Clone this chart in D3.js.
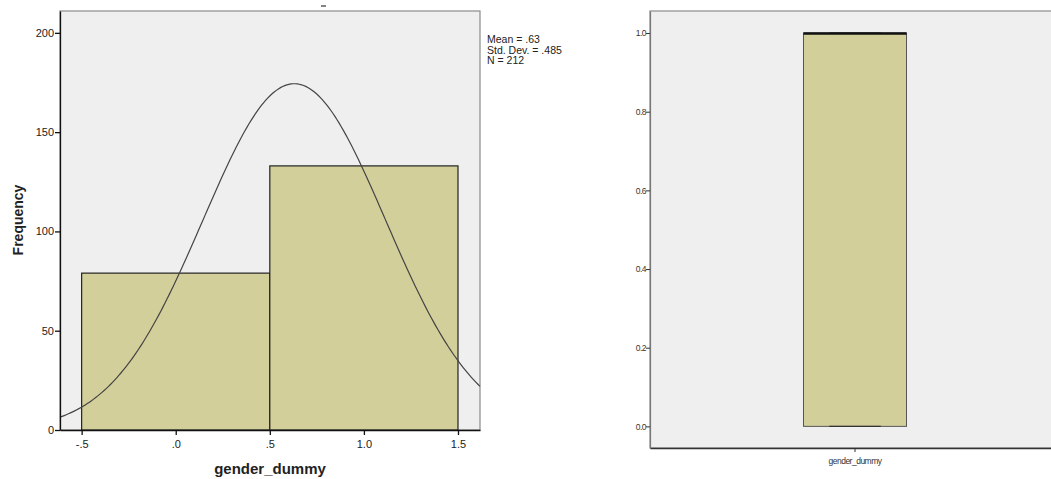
<!DOCTYPE html>
<html>
<head>
<meta charset="utf-8">
<script src="https://cdn.jsdelivr.net/npm/d3@7"></script>
<style>
  body { margin: 0; background: #fff; }
  svg { display: block; font-family: "Liberation Sans", Arial, sans-serif; }
</style>
</head>
<body>
<div class="chart"></div>
<script>
// Histogram data (gender_dummy)
var binEdges = [[-0.5, 0.5], [0.5, 1.5]];
var binCounts = [79, 133];
var histTicksX = [-0.5, 0, 0.5, 1.0, 1.5];
var histTickLabelsX = ["-.5", ".0", ".5", "1.0", "1.5"];
var histTicksY = [0, 50, 100, 150, 200];
var statsMean = 0.63;
var statsSd = 0.485;
var statsN = 212;
var statsLines = ["Mean = .63", "Std. Dev. = .485", "N = 212"];

// Boxplot data
var boxCategories = ["gender_dummy"];
var boxMin = [0], boxQ1 = [0], boxMedian = [1], boxQ3 = [1], boxMax = [1];
var boxTicksY = [0, 0.2, 0.4, 0.6, 0.8, 1.0];

var W = 1051, H = 479;
var svg = d3.select(".chart").append("svg").attr("width", W).attr("height", H);

// ---------- Left: histogram ----------
var hx = d3.scaleLinear().domain([-0.615, 1.617]).range([60, 480]);
var hy = d3.scaleLinear().domain([0, 211]).range([430, 11]);

svg.append("rect")
  .attr("x", 60).attr("y", 11).attr("width", 420).attr("height", 419)
  .attr("fill", "#efefef").attr("stroke", "#8a8a8a").attr("stroke-width", 1.2);

var hist = svg.append("g");
hist.selectAll("rect.bar")
  .data(binCounts)
  .enter().append("rect")
  .attr("class", "bar")
  .attr("x", (d, i) => hx(binEdges[i][0]))
  .attr("y", d => hy(d))
  .attr("width", (d, i) => hx(binEdges[i][1]) - hx(binEdges[i][0]))
  .attr("height", d => hy(0) - hy(d))
  .attr("fill", "#d3cf9b")
  .attr("stroke", "#222").attr("stroke-width", 1.2);

// fitted normal curve from the printed statistics
var binW = binEdges[0][1] - binEdges[0][0];
var curveXs = d3.range(0, 201).map(i => hx.domain()[0] + i * (hx.domain()[1] - hx.domain()[0]) / 200);
var normal = x => statsN * binW / (statsSd * Math.sqrt(2 * Math.PI)) *
  Math.exp(-0.5 * Math.pow((x - statsMean) / statsSd, 2));
hist.append("path")
  .datum(curveXs)
  .attr("fill", "none").attr("stroke", "#444").attr("stroke-width", 1.2)
  .attr("d", d3.line().x(d => hx(d)).y(d => hy(normal(d))));

// axes
var hxAxis = svg.append("g")
  .attr("transform", "translate(0,430)")
  .call(d3.axisBottom(hx).tickValues(histTicksX).tickFormat((d, i) => histTickLabelsX[i]).tickSize(5).tickSizeOuter(0));
var hyAxis = svg.append("g")
  .attr("transform", "translate(60,0)")
  .call(d3.axisLeft(hy).tickValues(histTicksY).tickSize(5).tickSizeOuter(0));
[hxAxis, hyAxis].forEach(function(a) {
  a.select(".domain").attr("stroke", "#111").attr("stroke-width", 1.3);
  a.selectAll(".tick line").attr("stroke", "#111").attr("stroke-width", 1.3);
  a.selectAll("text").attr("font-size", 11).attr("fill", "#222")
    .attr("font-family", "Liberation Sans, Arial, sans-serif");
});
hxAxis.selectAll("text").attr("dy", "0.9em");
hyAxis.selectAll("text").attr("x", -6);

svg.append("text")
  .attr("x", 270).attr("y", 474).attr("text-anchor", "middle")
  .attr("font-size", 15).attr("font-weight", "bold").attr("fill", "#222")
  .text("gender_dummy");
svg.append("text")
  .attr("transform", "translate(23,220) rotate(-90)").attr("text-anchor", "middle")
  .attr("font-size", 14).attr("font-weight", "bold").attr("fill", "#222")
  .text("Frequency");

svg.append("g").selectAll("text")
  .data(statsLines).enter().append("text")
  .attr("x", 487).attr("y", (d, i) => 43 + i * 10.5)
  .attr("font-size", 10.5).attr("fill", "#222")
  .text(d => d);

// small clipped title fragment
svg.append("line").attr("x1", 321).attr("x2", 326).attr("y1", 6).attr("y2", 6)
  .attr("stroke", "#333").attr("stroke-width", 1.2);

// ---------- Right: boxplot ----------
var bx = d3.scaleBand().domain(boxCategories).range([650, 1060]).paddingInner(0).paddingOuter(1.49);
var by = d3.scaleLinear().domain([-0.055, 1.056]).range([448, 11]);

svg.append("rect")
  .attr("x", 650).attr("y", 11).attr("width", 440).attr("height", 437)
  .attr("fill", "#efefef").attr("stroke", "#8a8a8a").attr("stroke-width", 1.2);

var box = svg.append("g").selectAll("g")
  .data(boxCategories).enter().append("g");
box.append("rect")
  .attr("x", d => bx(d))
  .attr("y", (d, i) => by(boxQ3[i]))
  .attr("width", bx.bandwidth())
  .attr("height", (d, i) => by(boxQ1[i]) - by(boxQ3[i]))
  .attr("fill", "#d3cf9b").attr("stroke", "#555").attr("stroke-width", 1);
// whisker caps
box.append("line")
  .attr("x1", d => bx(d) + bx.bandwidth() * 0.25)
  .attr("x2", d => bx(d) + bx.bandwidth() * 0.75)
  .attr("y1", (d, i) => by(boxMin[i])).attr("y2", (d, i) => by(boxMin[i]))
  .attr("stroke", "#333").attr("stroke-width", 1.2);
box.append("line")
  .attr("x1", d => bx(d) + bx.bandwidth() * 0.25)
  .attr("x2", d => bx(d) + bx.bandwidth() * 0.75)
  .attr("y1", (d, i) => by(boxMax[i])).attr("y2", (d, i) => by(boxMax[i]))
  .attr("stroke", "#333").attr("stroke-width", 1.2);
// median
box.append("line")
  .attr("x1", d => bx(d)).attr("x2", d => bx(d) + bx.bandwidth())
  .attr("y1", (d, i) => by(boxMedian[i]) + 0.5).attr("y2", (d, i) => by(boxMedian[i]) + 0.5)
  .attr("stroke", "#111").attr("stroke-width", 2.5);

var bxAxis = svg.append("g")
  .attr("transform", "translate(0,448)")
  .call(d3.axisBottom(bx).tickSize(4).tickSizeOuter(0));
var byAxis = svg.append("g")
  .attr("transform", "translate(650,0)")
  .call(d3.axisLeft(by).tickValues(boxTicksY).tickFormat(d3.format(".1f")).tickSize(4).tickSizeOuter(0));
bxAxis.select(".domain").attr("stroke", "#333").attr("stroke-width", 1.4);
byAxis.select(".domain").attr("stroke", "#777").attr("stroke-width", 1.2);
[bxAxis, byAxis].forEach(function(a) {
  a.selectAll(".tick line").attr("stroke", "#333");
  a.selectAll("text").attr("font-size", 8.5).attr("fill", "#333")
    .attr("letter-spacing", "-0.5px")
    .attr("font-family", "Liberation Sans, Arial, sans-serif");
});
bxAxis.selectAll("text").attr("dy", "1em");
byAxis.selectAll("text").attr("x", -4);
</script>
</body>
</html>
